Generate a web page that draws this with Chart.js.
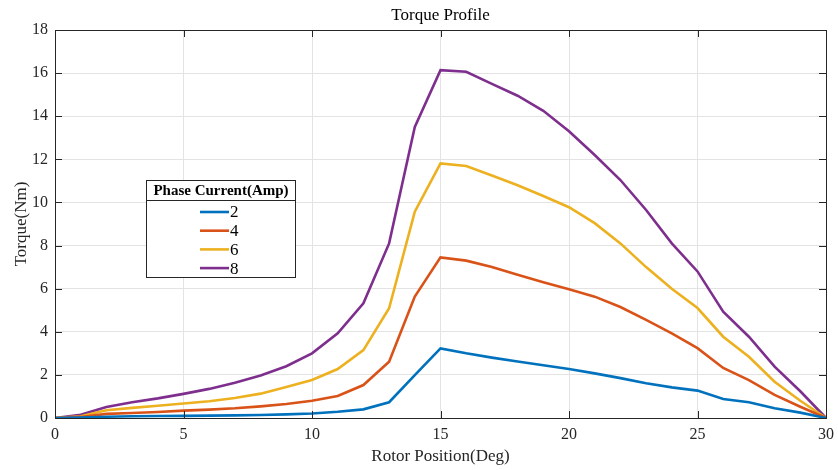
<!DOCTYPE html>
<html><head><meta charset="utf-8">
<script src="https://cdn.jsdelivr.net/npm/chart.js@4.4.1/dist/chart.umd.min.js"></script>
<style>html,body{margin:0;padding:0;background:#fff}#wrap{width:838px;height:470px}</style>
</head><body><div id="wrap"><canvas id="c" width="838" height="470"></canvas></div>
<script>
const positions = [0,1,2,3,4,5,6,7,8,9,10,11,12,13,14,15,16,17,18,19,20,21,22,23,24,25,26,27,28,29,30];
const currentLabels = ['2','4','6','8'];
const torque2 = [0,0.02,0.06,0.08,0.09,0.10,0.11,0.12,0.14,0.17,0.21,0.29,0.40,0.73,1.99,3.23,3.00,2.80,2.62,2.45,2.27,2.07,1.85,1.61,1.42,1.27,0.88,0.73,0.45,0.25,0];
const torque4 = [0,0.05,0.19,0.23,0.28,0.34,0.39,0.45,0.54,0.65,0.80,1.02,1.53,2.61,5.63,7.45,7.30,7.00,6.65,6.30,5.97,5.63,5.15,4.55,3.93,3.24,2.32,1.76,1.07,0.52,0];
const torque6 = [0,0.08,0.36,0.47,0.57,0.67,0.78,0.93,1.13,1.44,1.76,2.27,3.15,5.09,9.57,11.81,11.69,11.25,10.80,10.30,9.78,9.04,8.10,7.00,6.00,5.10,3.77,2.84,1.68,0.80,0];
const torque8 = [0,0.15,0.51,0.73,0.91,1.12,1.35,1.63,1.97,2.40,3.00,3.93,5.32,8.10,13.50,16.14,16.06,15.50,14.95,14.25,13.30,12.20,11.04,9.65,8.10,6.80,4.93,3.77,2.38,1.24,0];
const xTicks = [0,5,10,15,20,25,30];
const yTicks = [0,2,4,6,8,10,12,14,16,18];
const colors = ['#0072BD','#D95319','#EDB120','#7E2F8E'];
const series = [torque2, torque4, torque6, torque8];

const SERIF = '"Liberation Serif","Times New Roman",serif';

const datasets = series.map((s,i)=>({
  label: currentLabels[i],
  data: positions.map((x,j)=>({x:x,y:s[j]})),
  borderColor: colors[i], backgroundColor: colors[i],
  borderWidth: 2.6, pointRadius: 0, tension: 0, fill: false
}));

const decor = {
  id:'decor',
  afterDraw(chart){
    const ctx = chart.ctx, a = chart.chartArea;
    const xs = chart.scales.x, ys = chart.scales.y;
    ctx.save();
    ctx.strokeStyle = '#262626'; ctx.lineWidth = 1;
    ctx.strokeRect(Math.round(a.left)+0.5, Math.round(a.top)+0.5, Math.round(a.right-a.left), Math.round(a.bottom-a.top));
    ctx.beginPath();
    xTicks.forEach(v=>{
      const px = Math.round(xs.getPixelForValue(v))+0.5;
      ctx.moveTo(px,a.bottom); ctx.lineTo(px,a.bottom-7);
      ctx.moveTo(px,a.top); ctx.lineTo(px,a.top+7);
    });
    yTicks.forEach(v=>{
      const py = Math.round(ys.getPixelForValue(v))+0.5;
      ctx.moveTo(a.left,py); ctx.lineTo(a.left+7,py);
      ctx.moveTo(a.right,py); ctx.lineTo(a.right-7,py);
    });
    ctx.stroke();
    ctx.fillStyle = '#000';
    ctx.font = '17px ' + SERIF;
    ctx.textAlign = 'center'; ctx.textBaseline = 'middle';
    ctx.fillText('Torque Profile', (a.left+a.right)/2, 16);
    const L = 146, T = 180, W = 149, H = 97;
    ctx.fillStyle = '#fff';
    ctx.fillRect(L, T, W, H);
    ctx.strokeStyle = '#262626';
    ctx.strokeRect(L+0.5, T+0.5, W, H);
    ctx.beginPath(); ctx.moveTo(L, T+20.5); ctx.lineTo(L+W, T+20.5); ctx.stroke();
    ctx.fillStyle = '#000';
    ctx.font = 'bold 15px ' + SERIF;
    ctx.textAlign = 'center';
    ctx.fillText('Phase Current(Amp)', L+W/2+0.5, T+11);
    ctx.font = '17px ' + SERIF;
    ctx.textAlign = 'left';
    chart.data.datasets.forEach((d,i)=>{
      const y = T + 32 + i*18.7;
      ctx.strokeStyle = d.borderColor; ctx.lineWidth = 2.6;
      ctx.beginPath(); ctx.moveTo(200,y); ctx.lineTo(229,y); ctx.stroke();
      ctx.fillStyle = '#000';
      ctx.fillText(d.label, 230, y+1);
    });
    ctx.restore();
  }
};

new Chart(document.getElementById('c'), {
  type:'line',
  data:{datasets},
  options:{
    responsive:false, animation:false, devicePixelRatio:1,
    layout:{padding:{top:30,right:12,left:0,bottom:0}},
    plugins:{legend:{display:false}, title:{display:false}, tooltip:{enabled:false}},
    scales:{
      x:{type:'linear', min:0, max:30,
        afterBuildTicks(s){ s.ticks = xTicks.map(v=>({value:v})); },
        afterFit(s){ s.height = 52; s.paddingRight = 0; s.paddingLeft = 0; },
        grid:{color:'#e3e3e3', drawTicks:false, lineWidth:1},
        border:{display:false},
        ticks:{padding:7, color:'#262626', font:{family:SERIF, size:16}, maxRotation:0},
        title:{display:true, text:'Rotor Position(Deg)', color:'#262626', font:{family:SERIF, size:17}, padding:{top:0,bottom:3}}
      },
      y:{type:'linear', min:0, max:18,
        afterBuildTicks(s){ s.ticks = yTicks.map(v=>({value:v})); },
        afterFit(s){ s.width = 55; },
        grid:{color:'#e3e3e3', drawTicks:false, lineWidth:1},
        border:{display:false},
        ticks:{padding:7, color:'#262626', font:{family:SERIF, size:16}},
        title:{display:true, text:'Torque(Nm)', color:'#262626', font:{family:SERIF, size:17}, padding:{top:11,bottom:0}}
      }
    }
  },
  plugins:[decor]
});
</script>
</body></html>
